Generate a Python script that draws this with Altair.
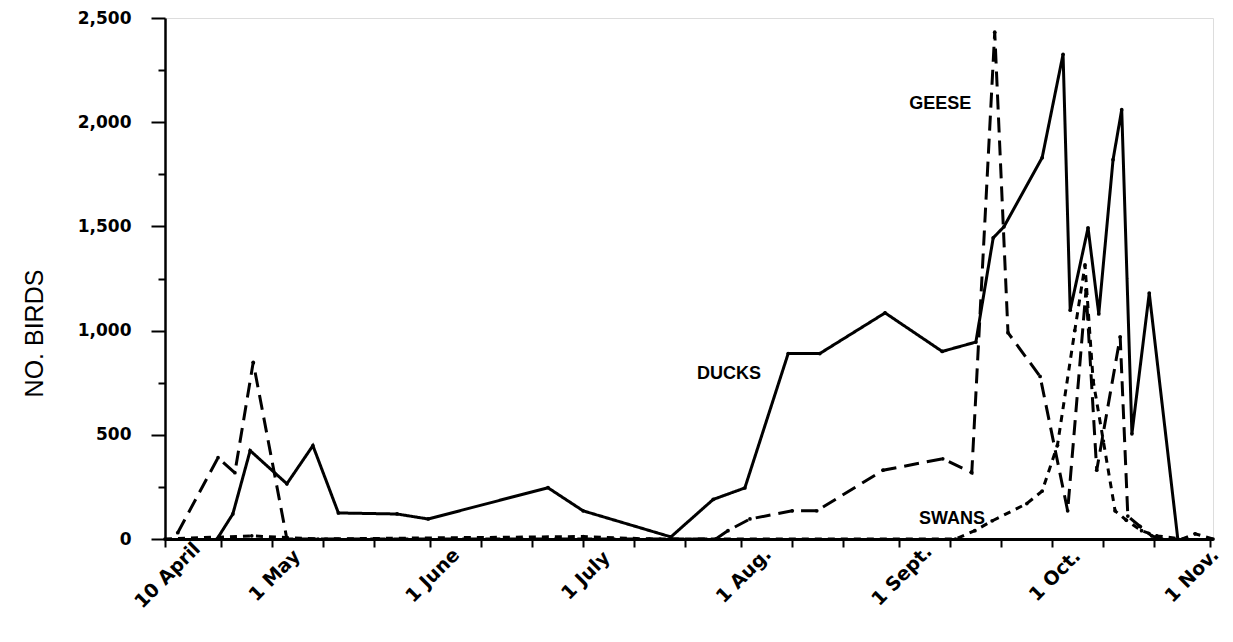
import altair as alt
import pandas as pd

# x = days since 10 April
DUCKS_DAY = [10.2, 13.3, 16.7, 23.9, 29.0, 34.0, 45.5, 51.6, 75.1, 82.0, 99.2, 107.5, 113.7,
             122.2, 128.4, 141.2, 152.4, 159.0, 162.4, 164.5, 172.0, 176.1, 177.5, 181.0,
             183.1, 185.9, 187.6, 189.6, 193.0, 198.6]
DUCKS_VAL = [0, 120, 424, 265, 448, 125, 120, 96, 246, 135, 10, 190, 245,
             890, 890, 1085, 900, 945, 1445, 1498, 1830, 2326, 1098, 1493,
             1080, 1820, 2060, 505, 1180, 0]

GEESE_DAY = [2.5, 10.4, 13.7, 17.3, 23.9, 108.0, 110.4, 114.7, 123.0, 127.8, 140.8, 152.5,
             158.2, 162.7, 165.3, 171.6, 177.0, 180.6, 182.7, 187.3, 188.8, 191.2, 193.5, 195.5]
GEESE_VAL = [30, 390, 318, 848, 0, 0, 40, 96, 135, 135, 330, 385,
             318, 2432, 990, 780, 135, 1195, 330, 970, 110, 60, 15, 0]

SWANS_DAY = [0, 17, 30, 82, 95, 155, 158.8, 162.2, 169.0, 172.0, 175.0, 178.4, 180.4,
             182.0, 184.0, 186.3, 188.5, 191.5, 194.5, 199.5, 202.0, 205.5]
SWANS_VAL = [0, 15, 0, 12, 0, 0, 40, 87, 170, 230, 450, 1000, 1315,
             760, 470, 135, 90, 40, 15, 0, 25, 0]

SERIES = ["DUCKS", "GEESE", "SWANS"]

LABEL_TEXT = ["GEESE", "DUCKS", "SWANS"]
LABEL_DAY = [152.0, 110.6, 154.3]
LABEL_VAL = [2087, 792, 96]

TICK_DAYS = [0, 11, 21, 31, 41, 52, 62, 72, 82, 92, 102, 113, 123, 133, 144, 154, 164,
             174, 184, 194, 205]
TICK_LABELS = {0: "10 April", 21: "1 May", 52: "1 June", 82: "1 July", 113: "1 Aug.",
               144: "1 Sept.", 174: "1 Oct.", 205: "1 Nov."}
Y_TICKS = list(range(0, 2501, 250))

rows = []
for name, days, vals in [("DUCKS", DUCKS_DAY, DUCKS_VAL), ("GEESE", GEESE_DAY, GEESE_VAL),
                         ("SWANS", SWANS_DAY, SWANS_VAL)]:
    for d, v in zip(days, vals):
        rows.append({"series": name, "day": d, "birds": v})
df = pd.DataFrame(rows)
labels_df = pd.DataFrame({"text": LABEL_TEXT, "day": LABEL_DAY, "birds": LABEL_VAL})

expr = "''"
for k in sorted(TICK_LABELS, reverse=True):
    expr = f"datum.value == {k} ? '{TICK_LABELS[k]}' : ({expr})"

xscale = alt.Scale(domain=[0, 205.5], nice=False, zero=False)
yscale = alt.Scale(domain=[0, 2500], nice=False)

x_enc = alt.X("day:Q", scale=xscale, axis=alt.Axis(
    values=TICK_DAYS, labelExpr=expr, title=None, grid=False,
    labelAngle=-45, labelAlign="center", labelBaseline="middle",
    labelFont="DejaVu Sans", labelFontWeight="bold", labelFontSize=19, labelColor="black",
    labelPadding=28,
    labelOffset={"condition": {"test": "datum.value == 205", "value": -19}, "value": 2},
    tickSize=8, tickWidth=2, tickColor="black",
    domainColor="black", domainWidth=3, labelOverlap=False, labelFlush=False))

y_enc = alt.Y("birds:Q", scale=yscale, axis=alt.Axis(
    values=Y_TICKS,
    labelExpr="datum.value % 500 === 0 ? format(datum.value, ',') : ''",
    title="NO. BIRDS", titleFont="Liberation Sans", titleFontSize=25, titleFontWeight="normal",
    titleColor="black", titleX=-131, titleY=315, titleAngle=-90, titleAlign="center",
    titleBaseline="middle",
    grid=False, labelFont="DejaVu Sans", labelFontWeight="bold", labelFontSize=17,
    labelColor="black", labelPadding=20,
    tickSize={"condition": {"test": "datum.value % 500 === 0", "value": 14}, "value": 7},
    tickWidth=2, tickColor="black", domainColor="black", domainWidth=2.5,
    labelOverlap=False))

dash = alt.StrokeDash("series:N", scale=alt.Scale(domain=SERIES, range=[[1, 0], [15, 8], [7, 6]]),
                      legend=None)

lines = alt.Chart(df).mark_line(color="black", strokeWidth=3).encode(
    x=x_enc, y=y_enc, strokeDash=dash, detail="series:N", order="day:Q")

points = alt.Chart(df).mark_point(filled=True, color="black", size=14, opacity=1).encode(
    x=alt.X("day:Q", scale=xscale), y=alt.Y("birds:Q", scale=yscale))

texts = alt.Chart(labels_df).mark_text(font="Liberation Sans", fontWeight="bold", fontSize=18,
                                       color="black").encode(
    x=alt.X("day:Q", scale=xscale), y=alt.Y("birds:Q", scale=yscale), text="text:N")

chart = alt.layer(lines, points, texts).properties(
    width=1048, height=521,
    autosize=alt.AutoSizeParams(type="none"),
    padding={"left": 157, "top": 10, "right": 11, "bottom": 86},
).configure_view(stroke=None).configure(background="white")

chart.save("out.html", embed_options={"renderer": "svg", "actions": False})
